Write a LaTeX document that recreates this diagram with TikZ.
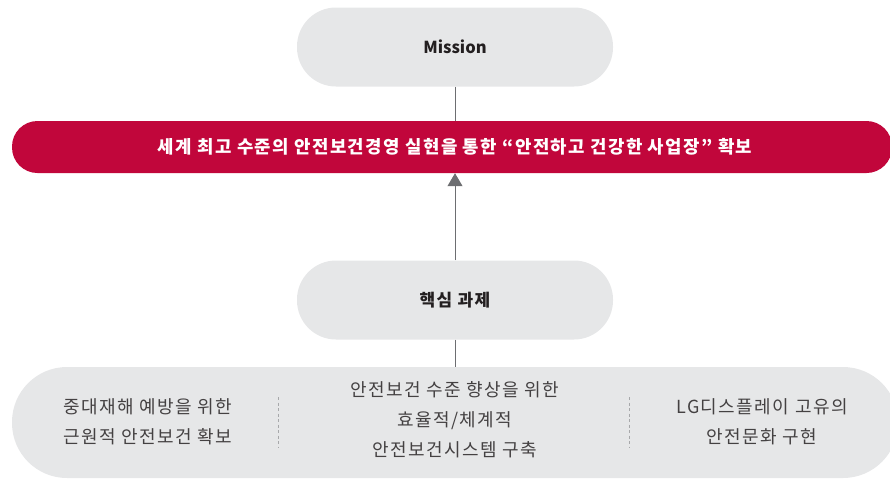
\documentclass[tikz,border=0pt]{standalone}
\usepackage{fontspec}
\setmainfont{Noto Sans CJK KR}
\newfontfamily\widefont[LetterSpace=8]{Noto Sans CJK KR}
\usetikzlibrary{arrows.meta, positioning}
\definecolor{lgred}{HTML}{C1063B}
\definecolor{pillgray}{HTML}{E6E7E8}
\definecolor{linegray}{HTML}{6D6E71}
\definecolor{textdark}{HTML}{231F20}
\tikzset{
  pill/.style={fill=pillgray, rounded corners=39pt, minimum width=316pt, minimum height=79pt,
    inner sep=0pt, text=textdark, font=\fontsize{16.5}{20}\selectfont\bfseries},
  goalbar/.style={fill=lgred, rounded corners=25.5pt, minimum width=880pt, minimum height=52pt,
    inner sep=0pt},
  goallabel/.style={text=white, font=\widefont\fontsize{17.8}{20}\selectfont\bfseries},
  taskbase/.style={fill=pillgray, rounded corners=55pt, minimum width=886pt, minimum height=111pt, inner sep=0pt},
  tasktext/.style={align=center, text=textdark!85, font=\widefont\fontsize{18}{30}\selectfont},
  link/.style={draw=linegray, line width=0.9pt},
  sep/.style={draw=linegray!60, line width=0.8pt, dash pattern=on 3pt off 2.5pt}
}

\begin{document}
\begin{tikzpicture}[x=1pt, y=-1pt]
    % Canvas
    \useasboundingbox (0,0) rectangle (890,480);
    \clip (0,0) rectangle (890,480);

    % Draw stages as nodes
    \node[pill] (mission) at (455,47) {Mission};
    \node[goalbar] (goal) at (452,147) {};
    \node[goallabel] (goaltext) at (455,147)
        {세계 최고 수준의 안전보건경영 실현을 통한 “안전하고 건강한 사업장” 확보};
    \node[pill, font=\widefont\fontsize{17}{20}\selectfont\bfseries] (core) at (455,300) {핵심 과제};
    \node[taskbase] (tasks) at (455,422.5) {};

    % Core tasks
    \node[tasktext] (taskone) at (148,422) {중대재해 예방을 위한\\근원적 안전보건 확보};
    \node[tasktext] (tasktwo) at (455,420) {안전보건 수준 향상을 위한\\효율적/체계적\\안전보건시스템 구축};
    \node[tasktext] (taskthree) at (762,422) {LG디스플레이 고유의\\안전문화 구현};

    % Draw connectors
    \draw[link] (mission.south) -- (goal.north -| mission.south);
    \draw[link, -{Triangle[length=13pt, width=15pt, fill=linegray]}]
        (core.north) -- (goal.south -| core.north);
    \draw[link] (core.south) -- (tasks.north -| core.south);

    % Separators
    \draw[sep] (278,397) -- (278,447);
    \draw[sep] (629,397) -- (629,447);
\end{tikzpicture}
\end{document}
